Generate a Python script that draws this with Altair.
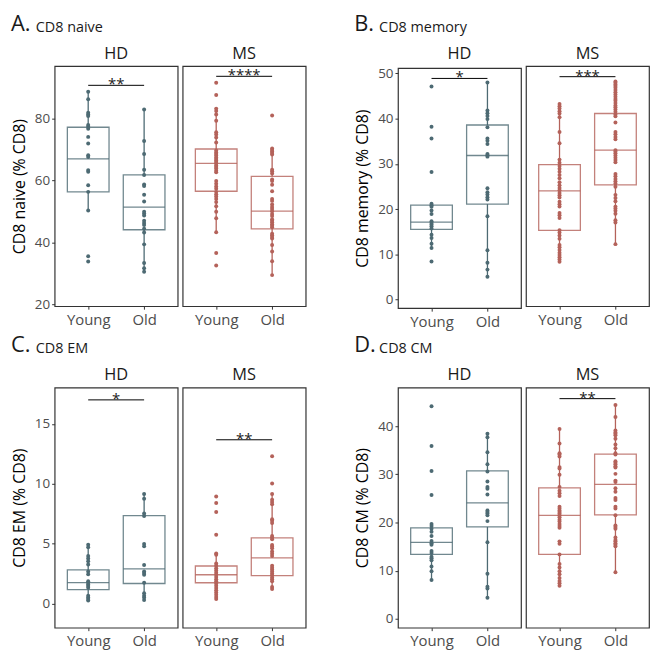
import altair as alt
import pandas as pd

FONT = "Open Sans"
HD_COLOR = "#4d6a73"
MS_COLOR = "#b4625a"
GROUPS = ["Young", "Old"]

# ---------------- A. CD8 naive ----------------
naive_hd_young = [88.5, 86.1, 81.8, 81.2, 80.7, 77.8, 77.3, 76.6, 74.0, 71.9, 68.1, 67.5, 63.3, 62.8, 58.4, 56.3, 50.3, 35.6, 33.9]
naive_hd_old = [82.8, 72.7, 68.5, 63.4, 61.7, 58.7, 58.2, 55.4, 53.2, 49.9, 49.3, 48.7, 47.0, 46.3, 45.6, 44.4, 43.2, 39.4, 33.4, 31.7, 30.6]
naive_ms_young = [91.4, 87.5, 83.1, 82.3, 81.2, 79.2, 75.5, 74.8, 73.8, 72.2, 69.6, 69.0, 68.5, 68.0, 67.4, 66.9, 66.4, 65.9, 65.4, 64.8,
                  64.3, 63.8, 63.1, 62.6, 59.8, 58.9, 58.0, 57.3, 56.3, 55.5, 54.8, 54.0, 53.0, 51.7, 49.9, 47.8, 43.3, 36.6, 32.6]
naive_ms_old = [80.9, 70.3, 69.8, 69.3, 68.8, 68.3, 63.4, 62.9, 62.2, 60.3, 59.8, 58.6, 56.5, 54.0, 53.4, 52.2, 51.4, 50.8, 50.1, 49.2,
                48.5, 47.5, 47.0, 46.5, 45.9, 45.4, 44.9, 42.8, 42.3, 41.8, 41.3, 39.2, 37.1, 34.0, 29.5]
# box stats per group (Young, Old): whisker low, q1, median, q3, whisker high
naive_hd_box = [[50.3, 56.3, 66.9, 77.1, 88.5], [30.6, 44.1, 51.4, 61.8, 82.8]]
naive_ms_box = [[43.3, 56.5, 65.5, 70.1, 83.1], [29.5, 44.4, 50.1, 61.3, 70.3]]
naive_hd_sig = [90.6, "**"]
naive_ms_sig = [93.5, "****"]
naive_domain = [19.5, 96.8]
naive_ticks = [20, 40, 60, 80]

# ---------------- B. CD8 memory ----------------
memory_hd_young = [47.1, 38.2, 35.6, 28.2, 21.2, 20.85, 20.5, 19.7, 18.9, 17.3, 16.9, 16.6, 16.2, 15.7, 14.3, 13.6, 12.3, 11.4, 8.4]
memory_hd_old = [48.0, 41.8, 41.2, 40.6, 39.9, 38.1, 35.6, 35.1, 34.4, 32.2, 31.9, 31.6, 24.6, 23.7, 23.2, 22.6, 22.1, 18.4, 10.9, 8.1, 6.6, 5.0]
memory_ms_young = [42.8, 42.3, 41.8, 41.2, 40.7, 39.9, 36.6, 34.1, 30.5, 29.8, 29.1, 28.5, 27.8, 27.1, 26.4, 25.5, 24.8, 24.2, 23.7, 23.1,
                   22.6, 22.1, 21.2, 20.6, 20.1, 18.7, 18.2, 17.6, 14.9, 14.4, 13.7, 13.0, 11.6, 11.1, 10.5, 9.9, 9.4, 8.9, 8.4, 7.9]
memory_ms_old = [47.8, 47.5, 47.1, 46.8, 46.4, 45.9, 45.4, 44.9, 44.4, 43.9, 43.5, 43.0, 42.5, 42.1, 41.6, 41.1, 40.5, 40.1, 38.7, 36.6,
                 36.1, 35.5, 35.0, 32.6, 32.3, 31.9, 31.4, 30.9, 30.4, 29.9, 27.3, 26.8, 26.2, 25.7, 25.2, 24.5, 22.7, 22.0, 21.3, 20.1,
                 19.7, 19.2, 18.5, 17.1, 16.6, 11.8]
memory_hd_box = [[11.4, 15.5, 17.1, 20.85, 21.2], [5.0, 21.1, 31.85, 38.6, 48.0]]
memory_ms_box = [[7.9, 14.85, 23.6, 29.4, 42.8], [11.8, 24.9, 32.6, 40.7, 47.8]]
memory_hd_sig = [48.9, "*"]
memory_ms_sig = [48.85, "***"]
memory_domain = [-1.93, 51.2]
memory_ticks = [0, 10, 20, 30, 40, 50]

# ---------------- C. CD8 EM ----------------
em_hd_young = [4.91, 4.69, 3.96, 3.75, 3.53, 3.26, 2.67, 2.45, 1.86, 1.73, 1.59, 1.46, 1.32, 0.65, 0.51, 0.38, 0.24]
em_hd_old = [9.14, 8.74, 7.52, 7.31, 4.96, 4.77, 3.21, 2.67, 2.54, 2.40, 1.73, 0.86, 0.65, 0.51, 0.30]
em_ms_young = [8.93, 8.39, 7.63, 5.74, 4.18, 4.07, 3.34, 3.16, 2.94, 2.75, 2.56, 2.40, 2.21, 2.02, 1.86, 1.67, 1.48, 1.29, 1.11, 0.92,
               0.73, 0.54, 0.38]
em_ms_old = [12.30, 10.01, 9.14, 8.66, 8.47, 8.28, 7.04, 6.90, 6.72, 5.64, 5.50, 5.37, 4.88, 4.75, 4.61, 4.34, 4.15, 3.96, 3.16, 2.99,
             2.83, 2.67, 2.51, 2.35, 2.18, 2.02, 1.86, 1.38, 1.21]
em_hd_box = [[0.24, 1.16, 1.75, 2.80, 4.91], [0.30, 1.67, 2.89, 7.34, 9.14]]
em_ms_box = [[0.38, 1.73, 2.40, 3.13, 4.18], [1.21, 2.32, 3.80, 5.47, 9.14]]
em_hd_sig = [17.0, "*"]
em_ms_sig = [13.67, "**"]
em_domain = [-2.02, 18.03]
em_ticks = [0, 5, 10, 15]

# ---------------- D. CD8 CM ----------------
cm_hd_young = [44.1, 35.9, 30.7, 25.7, 19.7, 19.3, 18.7, 18.1, 17.2, 16.2, 15.7, 15.4, 14.1, 13.7, 12.9, 12.6, 12.2, 10.9, 9.9, 8.1]
cm_hd_old = [38.4, 37.7, 34.6, 32.1, 30.6, 28.5, 27.4, 27.0, 25.8, 22.5, 22.2, 21.9, 21.5, 20.3, 15.9, 9.4, 6.7, 6.3, 4.4]
cm_ms_young = [39.4, 36.4, 34.4, 34.1, 33.7, 31.5, 31.2, 29.9, 27.4, 26.6, 26.1, 25.5, 23.3, 22.9, 22.5, 22.2, 21.9, 21.5, 21.1, 20.6,
               20.2, 19.7, 19.3, 18.9, 16.1, 15.6, 13.4, 11.4, 10.7, 9.9, 9.3, 8.5, 7.9, 7.4, 6.9]
cm_ms_old = [44.4, 41.9, 39.1, 38.7, 38.4, 38.1, 37.4, 36.2, 35.4, 34.4, 34.1, 32.7, 32.4, 32.1, 31.7, 31.4, 30.1, 28.7, 28.4, 27.1,
             26.4, 25.1, 24.7, 23.3, 22.9, 21.5, 19.4, 19.1, 18.7, 16.9, 16.4, 16.1, 15.7, 15.4, 15.1, 9.7]
cm_hd_box = [[8.1, 13.4, 15.9, 18.9, 19.7], [4.4, 19.1, 24.1, 30.7, 38.4]]
cm_ms_box = [[6.9, 13.4, 21.5, 27.2, 39.4], [9.7, 21.6, 27.9, 34.2, 44.4]]
cm_hd_sig = None
cm_ms_sig = [45.7, "**"]
cm_domain = [-1.8, 48.0]
cm_ticks = [0, 10, 20, 30, 40]

# ---------------- layout constants ----------------
W = 124
H = 242
STRIP_H = 23
BOX_W = 42


def facet_panel(young, old, box, sig, color, label, ydomain, yticks, ytitle):
    pts = pd.DataFrame({"group": ["Young"] * len(young) + ["Old"] * len(old), "value": young + old})
    bx = pd.DataFrame({
        "group": GROUPS,
        "lo": [b[0] for b in box],
        "q1": [b[1] for b in box],
        "med": [b[2] for b in box],
        "q3": [b[3] for b in box],
        "hi": [b[4] for b in box],
    })
    xscale = alt.Scale(type="point", domain=GROUPS, padding=0.6)
    xaxis = alt.Axis(title=None, labelFont=FONT, labelFontSize=15, labelColor="#4d4d4d",
                     tickColor="#333333", tickSize=3, domain=False, labelPadding=3, labelAngle=0)
    xenc = alt.X("group:N", scale=xscale, axis=xaxis, sort=GROUPS)
    yscale = alt.Scale(domain=ydomain, nice=False, zero=False)
    if ytitle:
        yaxis = alt.Axis(title=ytitle, values=yticks, labelFont=FONT, labelFontSize=13.5, labelColor="#4d4d4d",
                         tickColor="#333333", tickSize=3, domain=False, grid=False, labelPadding=2,
                         titleFont=FONT, titleFontSize=16, titleFontWeight="normal", titleColor="#000000",
                         titlePadding=7)
    else:
        yaxis = None

    def Y(field):
        return alt.Y(field, scale=yscale, axis=yaxis)

    base = alt.Chart(bx)
    lower = base.mark_rule(color=color, strokeWidth=1.3).encode(x=xenc, y=Y("lo:Q"), y2="q1:Q")
    upper = base.mark_rule(color=color, strokeWidth=1.3).encode(x=xenc, y=Y("q3:Q"), y2="hi:Q")
    boxes = base.mark_bar(size=BOX_W, fill="white", fillOpacity=0, stroke=color, strokeOpacity=0.8,
                          strokeWidth=1.3).encode(x=xenc, y=Y("q1:Q"), y2="q3:Q")
    med = base.mark_tick(size=BOX_W, thickness=1.3, color=color, opacity=0.8, orient="horizontal").encode(
        x=xenc, y=Y("med:Q"))
    points = alt.Chart(pts).mark_circle(size=16, color=color, opacity=1).encode(x=xenc, y=Y("value:Q"))
    layers = [lower, upper, boxes, med, points]
    if sig is not None:
        sigdf = pd.DataFrame({"x1": ["Young"], "x2": ["Old"], "y": [sig[0]], "label": [sig[1]]})
        rule = alt.Chart(sigdf).mark_rule(color="#000000", strokeWidth=1).encode(
            x=alt.X("x1:N", scale=xscale, axis=xaxis, sort=GROUPS), x2="x2:N", y=Y("y:Q"))
        txt = alt.Chart(sigdf).mark_text(font=FONT, fontSize=15, color="#222222", baseline="alphabetic",
                                         dy=4).encode(y=Y("y:Q"), text="label:N")
        layers += [rule, txt]
    plot = alt.layer(*layers).properties(width=W, height=H)
    strip = alt.Chart(pd.DataFrame({"t": [label]})).mark_text(
        font=FONT, fontSize=16.5, color="#1a1a1a").encode(text="t:N").properties(width=W, height=STRIP_H)
    return alt.vconcat(strip, plot, spacing=0).resolve_scale(x="independent", y="independent")


def quadrant(letter, name, hd_y, hd_o, hd_box, hd_sig, ms_y, ms_o, ms_box, ms_sig, ydomain, yticks, ytitle):
    p_hd = facet_panel(hd_y, hd_o, hd_box, hd_sig, HD_COLOR, "HD", ydomain, yticks, ytitle)
    p_ms = facet_panel(ms_y, ms_o, ms_box, ms_sig, MS_COLOR, "MS", ydomain, yticks, None)
    name_title = alt.TitleParams(text=name, anchor="start", frame="bounds", dx=25,
                                 font=FONT, fontSize=14.5, fontWeight="normal", color="#1a1a1a", offset=7)
    inner = alt.hconcat(p_hd, p_ms, spacing=3, title=name_title).resolve_scale(x="independent", y="independent")
    letter_title = alt.TitleParams(text=letter, anchor="start", frame="bounds",
                                   font=FONT, fontSize=22, fontWeight="normal", color="#1a1a1a", offset=-16)
    return alt.vconcat(inner, title=letter_title).resolve_scale(x="independent", y="independent")


qa = quadrant("A.", "CD8 naive", naive_hd_young, naive_hd_old, naive_hd_box, naive_hd_sig,
              naive_ms_young, naive_ms_old, naive_ms_box, naive_ms_sig, naive_domain, naive_ticks, "CD8 naive (% CD8)")
qb = quadrant("B.", "CD8 memory", memory_hd_young, memory_hd_old, memory_hd_box, memory_hd_sig,
              memory_ms_young, memory_ms_old, memory_ms_box, memory_ms_sig, memory_domain, memory_ticks, "CD8 memory (% CD8)")
qc = quadrant("C.", "CD8 EM", em_hd_young, em_hd_old, em_hd_box, em_hd_sig,
              em_ms_young, em_ms_old, em_ms_box, em_ms_sig, em_domain, em_ticks, "CD8 EM (% CD8)")
qd = quadrant("D.", "CD8 CM", cm_hd_young, cm_hd_old, cm_hd_box, cm_hd_sig,
              cm_ms_young, cm_ms_old, cm_ms_box, cm_ms_sig, cm_domain, cm_ticks, "CD8 CM (% CD8)")

row1 = alt.hconcat(qa, qb, spacing=47).resolve_scale(x="independent", y="independent")
row2 = alt.hconcat(qc, qd, spacing=47).resolve_scale(x="independent", y="independent")
chart = alt.vconcat(row1, row2, spacing=4).resolve_scale(x="independent", y="independent").properties(
    padding={"left": 2, "top": 2, "right": 0, "bottom": 0}, background="white"
).configure_view(stroke="#333333", strokeWidth=1.2)

chart.save("out.html", embed_options={"renderer": "svg", "actions": False})
